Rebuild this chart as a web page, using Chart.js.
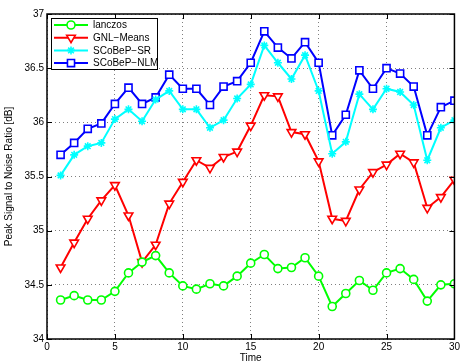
<!DOCTYPE html>
<html>
<head>
<meta charset="utf-8">
<script src="https://cdn.jsdelivr.net/npm/chart.js@4/dist/chart.umd.min.js"></script>
<style>
  html, body { margin: 0; padding: 0; background: #fff; }
  canvas { display: block; }
</style>
</head>
<body>
<canvas id="psnrChart" width="462" height="362"></canvas>
<script>
// Values
const timeSteps = [1, 2, 3, 4, 5, 6, 7, 8, 9, 10, 11, 12, 13, 14, 15,
  16, 17, 18, 19, 20, 21, 22, 23, 24, 25, 26, 27, 28, 29, 30];
const lanczos = [34.36, 34.40, 34.36, 34.36, 34.44, 34.61, 34.71, 34.77, 34.61, 34.49,
  34.46, 34.51, 34.49, 34.58, 34.70, 34.78, 34.65, 34.66, 34.75, 34.58,
  34.30, 34.42, 34.54, 34.45, 34.61, 34.65, 34.55, 34.35, 34.50, 34.51];
const gnlMeans = [34.66, 34.89, 35.11, 35.28, 35.42, 35.14, 34.71, 34.87, 35.25, 35.45,
  35.65, 35.58, 35.68, 35.73, 35.97, 36.25, 36.24, 35.91, 35.89, 35.64,
  35.11, 35.09, 35.38, 35.54, 35.61, 35.71, 35.63, 35.21, 35.31, 35.47];
const scobepSR = [35.51, 35.70, 35.78, 35.81, 36.03, 36.12, 36.01, 36.21, 36.29, 36.12,
  36.12, 35.95, 36.02, 36.22, 36.35, 36.71, 36.55, 36.40, 36.62, 36.29,
  35.71, 35.82, 36.26, 36.12, 36.31, 36.28, 36.16, 35.65, 35.95, 36.02];
const scobepNLM = [35.70, 35.81, 35.94, 35.99, 36.17, 36.32, 36.17, 36.23, 36.44, 36.31,
  36.31, 36.16, 36.33, 36.38, 36.55, 36.84, 36.69, 36.59, 36.74, 36.55,
  35.88, 36.07, 36.48, 36.31, 36.50, 36.45, 36.33, 35.88, 36.14, 36.20];

const toPoints = (values) => values.map((v, i) => ({ x: timeSteps[i], y: v }));

const FONT = 'Liberation Sans, Arial, Helvetica, sans-serif';

// MATLAB style box with inward tick marks on all four sides
const axesBox = {
  id: 'axesBox',
  afterDraw(chart) {
    const { ctx, chartArea: a, scales } = chart;
    const len = 5;
    ctx.save();
    ctx.strokeStyle = '#000';
    ctx.lineWidth = 1;
    ctx.beginPath();
    scales.x.ticks.forEach(t => {
      const px = Math.round(scales.x.getPixelForValue(t.value)) + 0.5;
      ctx.moveTo(px, a.bottom); ctx.lineTo(px, a.bottom - len);
      ctx.moveTo(px, a.top); ctx.lineTo(px, a.top + len);
    });
    scales.y.ticks.forEach(t => {
      const py = Math.round(scales.y.getPixelForValue(t.value)) + 0.5;
      ctx.moveTo(a.left, py); ctx.lineTo(a.left + len, py);
      ctx.moveTo(a.right, py); ctx.lineTo(a.right - len, py);
    });
    ctx.stroke();
    ctx.lineWidth = 1.5;
    ctx.strokeRect(a.left, a.top, a.right - a.left, a.bottom - a.top);
    ctx.restore();
  }
};

// Legend box drawn inside the plot, top left, with line + marker samples
const insideLegend = {
  id: 'insideLegend',
  afterDraw(chart) {
    const { ctx, chartArea: a } = chart;
    const sets = chart.data.datasets;
    const x0 = a.left + 4, y0 = a.top + 4;
    const rowH = 12.7, w = 106, h = 51;
    ctx.save();
    ctx.fillStyle = '#fff';
    ctx.fillRect(x0, y0, w, h);
    ctx.strokeStyle = '#000';
    ctx.lineWidth = 1;
    ctx.strokeRect(x0 + 0.5, y0 + 0.5, w, h);
    ctx.font = '10px ' + FONT;
    ctx.textBaseline = 'middle';
    sets.forEach((ds, i) => {
      const cy = y0 + 7 + i * rowH;
      ctx.strokeStyle = ds.borderColor;
      ctx.lineWidth = ds.borderWidth;
      ctx.beginPath();
      ctx.moveTo(x0 + 3, cy); ctx.lineTo(x0 + 37, cy);
      ctx.stroke();
      ctx.fillStyle = ds.pointBackgroundColor;
      ctx.lineWidth = ds.pointBorderWidth;
      Chart.helpers.drawPoint(ctx, {
        pointStyle: ds.pointStyle,
        radius: ds.pointRadius,
        rotation: ds.pointRotation || 0,
        borderWidth: ds.pointBorderWidth
      }, x0 + 20, cy);
      ctx.fillStyle = '#000';
      ctx.fillText(ds.label, x0 + 42, cy + 0.5);
    });
    ctx.restore();
  }
};

function series(label, values, color, style, radius, rotation) {
  return {
    label: label,
    data: toPoints(values),
    borderColor: color,
    borderWidth: 2,
    pointStyle: style,
    pointRadius: radius,
    pointRotation: rotation || 0,
    pointBorderColor: color,
    pointBackgroundColor: style === 'star' ? color : '#fff',
    pointBorderWidth: 1.6,
    tension: 0
  };
}

new Chart(document.getElementById('psnrChart').getContext('2d'), {
  type: 'line',
  data: {
    datasets: [
      series('lanczos', lanczos, '#00ff00', 'circle', 4),
      series('GNL\u2212Means', gnlMeans, '#ff0000', 'triangle', 5, 180),
      series('SCoBeP\u2212SR', scobepSR, '#00ffff', 'star', 4),
      series('SCoBeP\u2212NLM', scobepNLM, '#0000ff', 'rect', 5)
    ]
  },
  options: {
    responsive: false,
    animation: false,
    layout: { padding: { top: 14, right: 5, left: 0, bottom: 0 } },
    plugins: {
      legend: { display: false },
      tooltip: { enabled: false }
    },
    scales: {
      x: {
        type: 'linear',
        min: 0,
        max: 30,
        afterFit(scale) { scale.height = 23; },
        ticks: { stepSize: 5, color: '#000', padding: 2, font: { family: FONT, size: 10 } },
        grid: { color: 'rgba(0,0,0,0.5)', drawTicks: false },
        border: { display: false, dash: [1, 3] },
        title: {
          display: true,
          text: 'Time',
          color: '#000',
          padding: 0,
          font: { family: FONT, size: 10, lineHeight: 0.8 }
        }
      },
      y: {
        min: 34,
        max: 37,
        afterFit(scale) { scale.width = 47; },
        ticks: {
          stepSize: 0.5,
          color: '#000',
          padding: 3,
          font: { family: FONT, size: 10 },
          callback: (value) => String(Math.round(value * 10) / 10)
        },
        grid: { color: 'rgba(0,0,0,0.5)', drawTicks: false },
        border: { display: false, dash: [1, 3] },
        title: {
          display: true,
          text: 'Peak Signal to Noise Ratio [dB]',
          color: '#000',
          padding: { top: 3, bottom: 0 },
          font: { family: FONT, size: 10 }
        }
      }
    }
  },
  plugins: [axesBox, insideLegend]
});
</script>
</body>
</html>
